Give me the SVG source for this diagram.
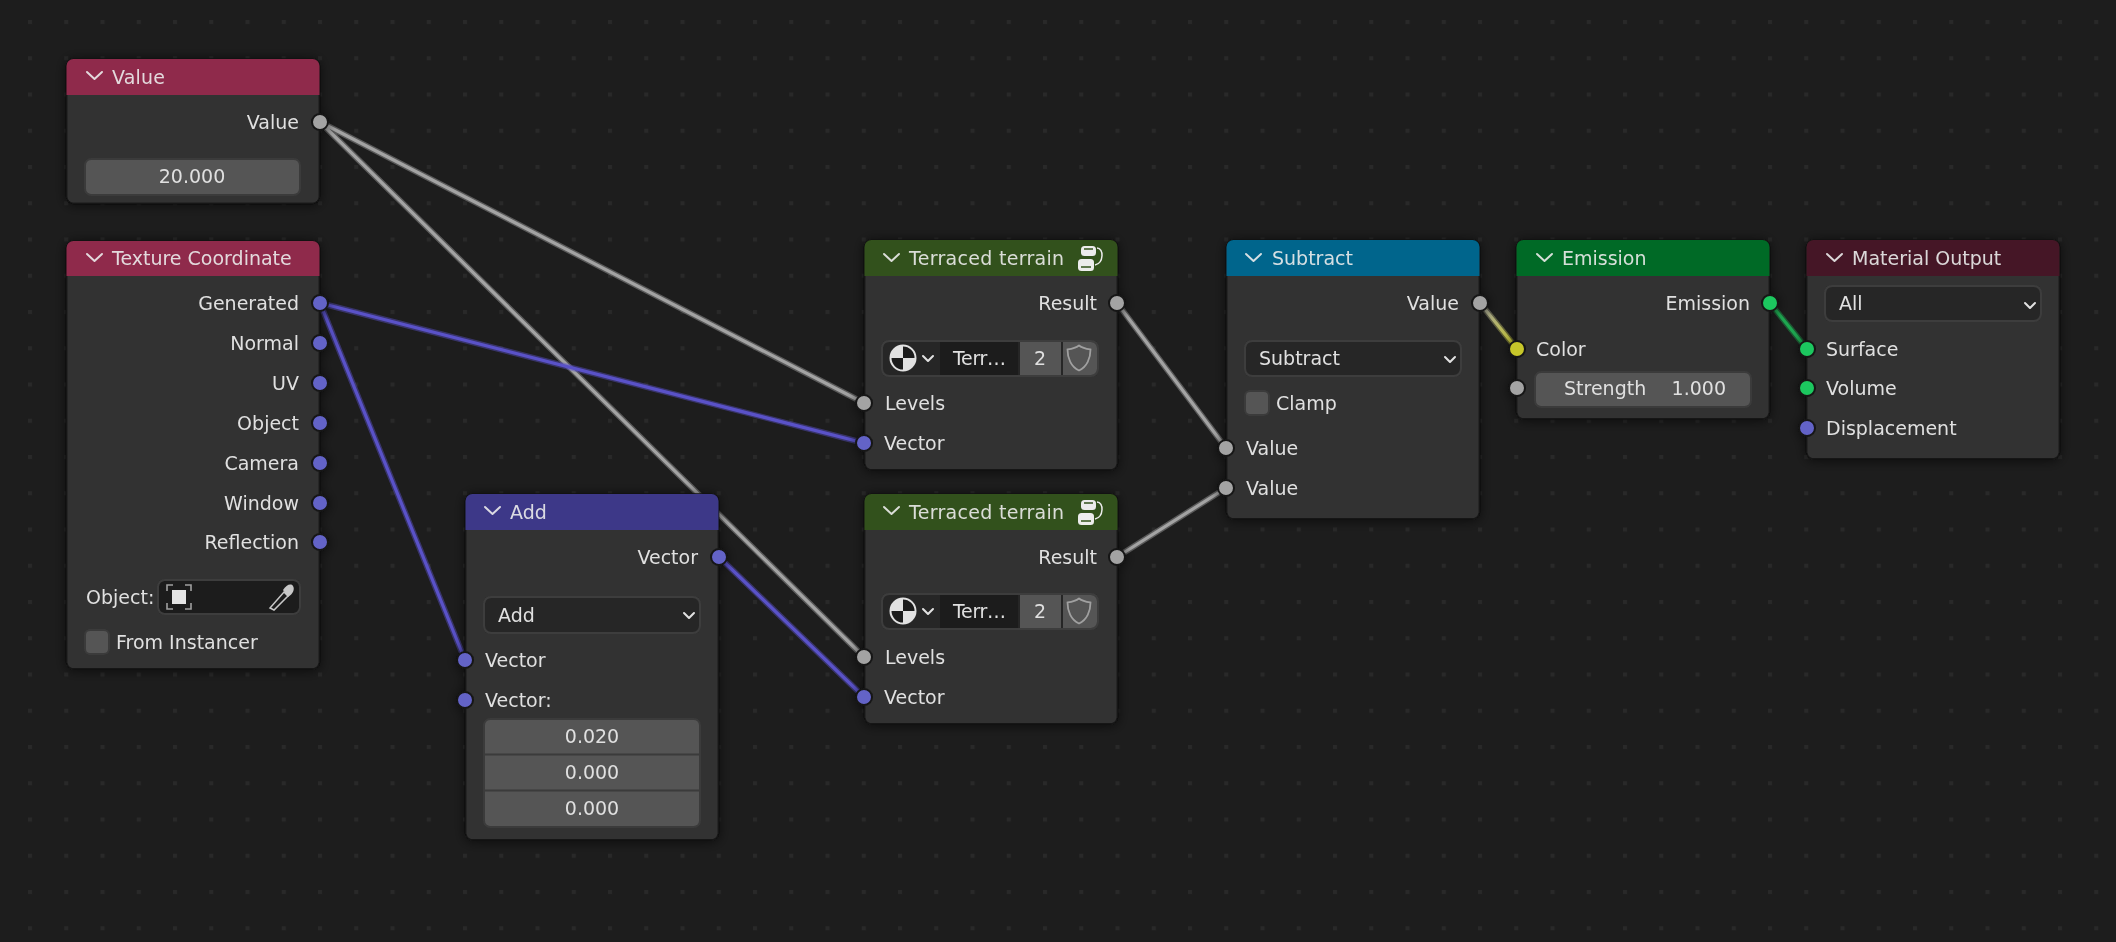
<svg xmlns="http://www.w3.org/2000/svg" width="2116" height="942" viewBox="0 0 2116 942">
<style>
text{font-family:"DejaVu Sans","Liberation Sans",sans-serif;font-size:19px;fill:#e0e0e0}
.r{text-anchor:end}
.m{text-anchor:middle}
.t{fill:#ececec;fill-opacity:.9}
.body{fill:#303030;stroke:#121212;stroke-width:1.5}
.chev{fill:none;stroke:#ececec;stroke-opacity:.9;stroke-width:2;stroke-linecap:round;stroke-linejoin:round}
.sm{fill:none;stroke:#e2e2e2;stroke-width:2;stroke-linecap:round;stroke-linejoin:round}
.btn{fill:#545454;stroke:#3b3b3b;stroke-width:2}
.dd{fill:#282828;stroke:#3d3d3d;stroke-width:2}
.s{stroke:#151515;stroke-width:2}
.g{fill:#a3a3a3}
.p{fill:#6363c7}
.y{fill:#c7c729}
.e{fill:#1ec75e}
.w{fill:none;stroke-linecap:round}
.wo{stroke-width:6;opacity:.45}
.wi{stroke-width:3.2}
</style>
<defs>
<pattern id="grid" patternUnits="userSpaceOnUse" x="28" y="20" width="36.25" height="36.25"><rect width="4" height="4" fill="#292929"/></pattern>
<filter id="sh" x="-20%" y="-20%" width="140%" height="140%"><feDropShadow dx="0" dy="1" stdDeviation="6" flood-color="#000" flood-opacity=".6"/></filter>
<linearGradient id="gy" gradientUnits="userSpaceOnUse" x1="1480" y1="303" x2="1517" y2="348"><stop offset="0" stop-color="#a3a3a3"/><stop offset="1" stop-color="#c7c729"/></linearGradient>
<g id="grp"><rect x="3" y="0" width="15" height="10" rx="3.5" fill="#ececec"/><rect x="0" y="13" width="16" height="12" rx="3.5" fill="#ececec"/><path d="M6 3H15M3 21H13" stroke="#33511c" stroke-width="1.6" fill="none"/><path d="M19 2C26 2 26 17 17 19" stroke="#ececec" stroke-width="1.5" fill="none"/></g>
<g id="ball"><circle r="12.500" fill="#1c1c1c" stroke="#e2e2e2" stroke-width="2"/><path d="M0 0V-12.500A12.500 12.500 0 0 0-12.500 0ZM0 0V12.500A12.500 12.500 0 0 0 12.500 0Z" fill="#e2e2e2"/></g>
<path id="shield" d="M0-12.500C-4-9.500-8-9-11.500-8.500C-11.500 0-8 9 0 12.500C8 9 11.500 0 11.500-8.500C8-9 4-9.500 0-12.500Z" fill="none" stroke="#a0a0a0" stroke-width="1.800"/>
</defs>
<rect width="2116" height="942" fill="#1d1d1d"/>
<rect width="2116" height="942" fill="url(#grid)"/>

<g id="connectors">
<g class="w" stroke="#a3a3a3">
<path class="wo" d="M320 122L864 403M320 122L864 657M1117 303L1226 448M1117 557L1226 488"/>
<path class="wi" d="M320 122L864 403M320 122L864 657M1117 303L1226 448M1117 557L1226 488"/>
</g>
<g class="w" stroke="#5a52c8">
<path class="wo" d="M320 303L864 443M320 303L465 660M719 557L864 697"/>
<path class="wi" d="M320 303L864 443M320 303L465 660M719 557L864 697"/>
</g>
<g class="w" stroke="url(#gy)"><path class="wo" d="M1480 303L1517 349"/><path class="wi" d="M1480 303L1517 349"/></g>
<g class="w" stroke="#1ea650"><path class="wo" d="M1770 303L1807 349"/><path class="wi" d="M1770 303L1807 349"/></g>
</g>

<g id="node-value" filter="url(#sh)">
<rect class="body" x="66.500" y="59" width="253" height="144.500" rx="7"/>
<path d="M66.500 95V66a7 7 0 0 1 7-7H312.500a7 7 0 0 1 7 7V95Z" fill="#8f2a4b"/>
<path class="chev" d="M87 72L94.500 79L102 72"/>
<text class="t" x="112" y="84" letter-spacing=".2">Value</text>
<text class="r" x="299" y="129">Value</text>
<circle class="s g" cx="320" cy="122" r="8"/>
<rect class="btn" x="85" y="159" width="215" height="36" rx="6"/>
<text class="m" x="192" y="183">20.000</text>
</g>

<g id="node-texcoord" filter="url(#sh)">
<rect class="body" x="66.500" y="241" width="253" height="428" rx="7"/>
<path d="M66.500 276V248a7 7 0 0 1 7-7H312.500a7 7 0 0 1 7 7V276Z" fill="#8f2a4b"/>
<path class="chev" d="M87 254L94.500 261L102 254"/>
<text class="t" x="112" y="265">Texture Coordinate</text>
<text class="r" x="299" y="310">Generated</text><circle class="s p" cx="320" cy="303" r="8"/>
<text class="r" x="299" y="350">Normal</text><circle class="s p" cx="320" cy="343" r="8"/>
<text class="r" x="299" y="390">UV</text><circle class="s p" cx="320" cy="383" r="8"/>
<text class="r" x="299" y="430">Object</text><circle class="s p" cx="320" cy="423" r="8"/>
<text class="r" x="299" y="470">Camera</text><circle class="s p" cx="320" cy="463" r="8"/>
<text class="r" x="299" y="510">Window</text><circle class="s p" cx="320" cy="503" r="8"/>
<text class="r" x="299" y="549">Reflection</text><circle class="s p" cx="320" cy="542" r="8"/>
<text x="86" y="604">Object:</text>
<rect class="dd" x="158" y="580" width="142" height="34" rx="7" style="fill:#1c1c1c"/>
<rect x="172" y="590" width="14" height="14" fill="#e4e4e4"/>
<path d="M167 591V585H173M185 585H191V591M167 603V609H173M185 609H191V603" fill="none" stroke="#a0a0a0" stroke-width="1.6"/>
<path d="M270 608L284 592L288 596L274 610Z" fill="#1c1c1c" stroke="#c8c8c8" stroke-width="1.5"/>
<path d="M283 590C286 585 291 583 293 586C295 589 293 594 288 597Z" fill="#c8c8c8"/>
<rect class="btn" x="85" y="630" width="24" height="24" rx="5"/>
<text x="116" y="649">From Instancer</text>
</g>

<g id="node-add" filter="url(#sh)">
<rect class="body" x="465.500" y="494" width="253" height="346" rx="7"/>
<path d="M465.500 530V501a7 7 0 0 1 7-7H711.500a7 7 0 0 1 7 7V530Z" fill="#3c3888"/>
<path class="chev" d="M485 507L492.500 514L500 507"/>
<text class="t" x="510" y="519">Add</text>
<text class="r" x="698" y="564">Vector</text><circle class="s p" cx="719" cy="557" r="8"/>
<rect class="dd" x="484" y="597" width="216" height="36" rx="7"/>
<text x="498" y="622">Add</text>
<path class="sm" d="M684 613L689 618L694 613"/>
<text x="485" y="667">Vector</text><circle class="s p" cx="465" cy="660" r="8"/>
<text x="485" y="707">Vector:</text><circle class="s p" cx="465" cy="700" r="8"/>
<rect class="btn" x="484" y="719" width="216" height="108" rx="6"/>
<path d="M484 754.500H700M484 790.500H700" stroke="#3b3b3b" stroke-width="2"/>
<text class="m" x="592" y="743">0.020</text>
<text class="m" x="592" y="779">0.000</text>
<text class="m" x="592" y="815">0.000</text>
</g>

<g id="node-terraced-1" filter="url(#sh)">
<rect class="body" x="864.500" y="240" width="253" height="230" rx="7"/>
<path d="M864.500 276V247a7 7 0 0 1 7-7H1110.500a7 7 0 0 1 7 7V276Z" fill="#33511c"/>
<path class="chev" d="M884 254L891.500 261L899 254"/>
<text class="t" x="909" y="265" letter-spacing=".3">Terraced terrain</text>
<use href="#grp" x="1078" y="246"/>
<text class="r" x="1097" y="310">Result</text><circle class="s g" cx="1117" cy="303" r="8"/>
<rect class="dd" x="882" y="341" width="216" height="35" rx="7"/>
<use href="#ball" x="903" y="358"/>
<path class="sm" d="M923 356L928 361L933 356"/>
<rect x="940" y="342" width="78" height="33" fill="#1b1b1b"/>
<text x="953" y="365" textLength="53">Terr…</text>
<path d="M1020 342H1061V375H1020ZM1063 342H1091a6 6 0 0 1 6 6V369a6 6 0 0 1-6 6H1063Z" fill="#545454"/>
<text class="m" x="1040" y="365">2</text>
<use href="#shield" x="1079" y="358"/>
<text x="885" y="410">Levels</text><circle class="s g" cx="864" cy="403" r="8"/>
<text x="884" y="450">Vector</text><circle class="s p" cx="864" cy="443" r="8"/>
</g>

<g id="node-terraced-2" filter="url(#sh)">
<rect class="body" x="864.500" y="494" width="253" height="230" rx="7"/>
<path d="M864.500 530V501a7 7 0 0 1 7-7H1110.500a7 7 0 0 1 7 7V530Z" fill="#33511c"/>
<path class="chev" d="M884 507L891.500 514L899 507"/>
<text class="t" x="909" y="519" letter-spacing=".3">Terraced terrain</text>
<use href="#grp" x="1078" y="500"/>
<text class="r" x="1097" y="564">Result</text><circle class="s g" cx="1117" cy="557" r="8"/>
<rect class="dd" x="882" y="594" width="216" height="35" rx="7"/>
<use href="#ball" x="903" y="611"/>
<path class="sm" d="M923 609L928 614L933 609"/>
<rect x="940" y="595" width="78" height="33" fill="#1b1b1b"/>
<text x="953" y="618" textLength="53">Terr…</text>
<path d="M1020 595H1061V628H1020ZM1063 595H1091a6 6 0 0 1 6 6V622a6 6 0 0 1-6 6H1063Z" fill="#545454"/>
<text class="m" x="1040" y="618">2</text>
<use href="#shield" x="1079" y="611"/>
<text x="885" y="664">Levels</text><circle class="s g" cx="864" cy="657" r="8"/>
<text x="884" y="704">Vector</text><circle class="s p" cx="864" cy="697" r="8"/>
</g>

<g id="node-subtract" filter="url(#sh)">
<rect class="body" x="1226.500" y="240" width="253" height="279" rx="7"/>
<path d="M1226.500 276V247a7 7 0 0 1 7-7H1472.500a7 7 0 0 1 7 7V276Z" fill="#00658c"/>
<path class="chev" d="M1246 254L1253.500 261L1261 254"/>
<text class="t" x="1272" y="265">Subtract</text>
<text class="r" x="1459" y="310">Value</text><circle class="s g" cx="1480" cy="303" r="8"/>
<rect class="dd" x="1245" y="341" width="216" height="35" rx="7"/>
<text x="1259" y="365">Subtract</text>
<path class="sm" d="M1445 357L1450 362L1455 357"/>
<rect class="btn" x="1245" y="391" width="24" height="24" rx="5"/>
<text x="1276" y="410">Clamp</text>
<text x="1246" y="455">Value</text><circle class="s g" cx="1226" cy="448" r="8"/>
<text x="1246" y="495">Value</text><circle class="s g" cx="1226" cy="488" r="8"/>
</g>

<g id="node-emission" filter="url(#sh)">
<rect class="body" x="1516.500" y="240" width="253" height="179" rx="7"/>
<path d="M1516.500 276V247a7 7 0 0 1 7-7H1762.500a7 7 0 0 1 7 7V276Z" fill="#026b26"/>
<path class="chev" d="M1537 254L1544.500 261L1552 254"/>
<text class="t" x="1562" y="265">Emission</text>
<text class="r" x="1750" y="310">Emission</text><circle class="s e" cx="1770" cy="303" r="8"/>
<text x="1536" y="356">Color</text><circle class="s y" cx="1517" cy="349" r="8"/>
<circle class="s g" cx="1517" cy="388" r="8"/>
<rect class="btn" x="1535" y="372" width="216" height="35" rx="6"/>
<text x="1564" y="395">Strength</text>
<text class="r" x="1726" y="395">1.000</text>
</g>

<g id="node-output" filter="url(#sh)">
<rect class="body" x="1806.500" y="240" width="253" height="219" rx="7"/>
<path d="M1806.500 276V247a7 7 0 0 1 7-7H2052.500a7 7 0 0 1 7 7V276Z" fill="#441826"/>
<path class="chev" d="M1827 254L1834.500 261L1842 254"/>
<text class="t" x="1852" y="265">Material Output</text>
<rect class="dd" x="1825" y="286" width="216" height="35" rx="7"/>
<text x="1839" y="310">All</text>
<path class="sm" d="M2025 303L2030 308L2035 303"/>
<text x="1826" y="356">Surface</text><circle class="s e" cx="1807" cy="349" r="8"/>
<text x="1826" y="395">Volume</text><circle class="s e" cx="1807" cy="388" r="8"/>
<text x="1826" y="435">Displacement</text><circle class="s p" cx="1807" cy="428" r="8"/>
</g>
</svg>
